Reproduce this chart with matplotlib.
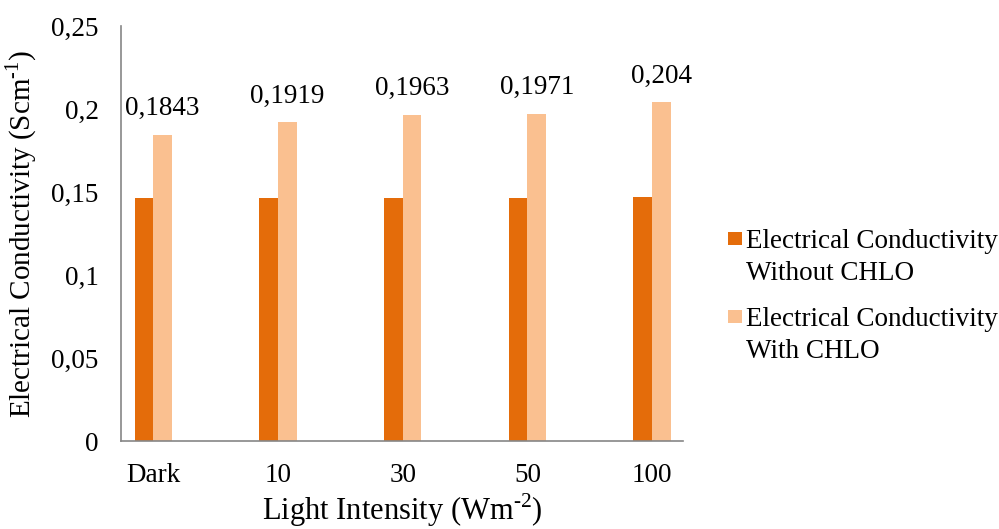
import numpy as np
import matplotlib
matplotlib.use('Agg')
import matplotlib.pyplot as plt
from matplotlib.patches import Rectangle

# 폰트 설정
plt.rcParams['font.family'] = ['Liberation Serif', 'DejaVu Serif']
plt.rcParams['mathtext.fontset'] = 'custom'
plt.rcParams['mathtext.rm'] = 'Liberation Serif'

# 데이터
categories = ['Dark', '10', '30', '50', '100']
without_chlo = [0.1466, 0.1466, 0.1467, 0.1467, 0.1472]
with_chlo = [0.1843, 0.1919, 0.1963, 0.1971, 0.204]
with_labels = ['0,1843', '0,1919', '0,1963', '0,1971', '0,204']
yticks = [0, 0.05, 0.1, 0.15, 0.2, 0.25]
ytick_labels = ['0', '0,05', '0,1', '0,15', '0,2', '0,25']
legend_labels = ['Electrical Conductivity\nWithout CHLO', 'Electrical Conductivity\nWith CHLO']

dark_color = '#E46C0A'
light_color = '#FAC090'
axis_color = '#868686'

fig = plt.figure(figsize=(9.99, 5.29), dpi=100)
ax = fig.add_axes([0.121, 0.166, 0.563, 0.785])

x = np.arange(len(categories))
w = 0.15
ax.bar(x - w / 2, without_chlo, width=w, color=dark_color)
bars = ax.bar(x + w / 2, with_chlo, width=w, color=light_color)

# 데이터 레이블
for rect, lab in zip(bars, with_labels):
    ax.annotate(lab, (rect.get_x() + rect.get_width() / 2, rect.get_height()),
                xytext=(0, 10), textcoords='offset points',
                ha='center', va='bottom', fontsize=19.5)

ax.set_xlim(-0.26, 4.25)
ax.set_ylim(0, 0.25)
ax.set_yticks(yticks)
ax.set_yticklabels(ytick_labels)
ax.set_xticks(x)
ax.set_xticklabels(categories)
ax.tick_params(axis='both', length=0, labelsize=19.5)
ax.tick_params(axis='y', pad=16)
ax.tick_params(axis='x', pad=16)

for s in ['top', 'right']:
    ax.spines[s].set_visible(False)
for s in ['left', 'bottom']:
    ax.spines[s].set_color(axis_color)
    ax.spines[s].set_linewidth(1.2)

ax.set_xlabel(r'Light Intensity (Wm$^{\text{-2}}$)', fontsize=22, labelpad=2)
ax.set_ylabel(r'Electrical Conductivity (Scm$^{\text{-1}}$)', fontsize=21, labelpad=9)

# 범례 (직접 그림: 사각형은 첫 줄에 맞춤)
for i, (lab, col) in enumerate(zip(legend_labels, [dark_color, light_color])):
    top_px = 231 + i * 78
    fig.patches.append(Rectangle((728 / 999, 1 - (top_px + 14) / 529), 14 / 999, 13.5 / 529,
                                 transform=fig.transFigure, facecolor=col, edgecolor='none'))
    fig.text(746 / 999, 1 - (top_px - 2) / 529, lab, fontsize=19.5, va='top', ha='left',
             linespacing=1.35)

fig.savefig('out.png', dpi=100)
